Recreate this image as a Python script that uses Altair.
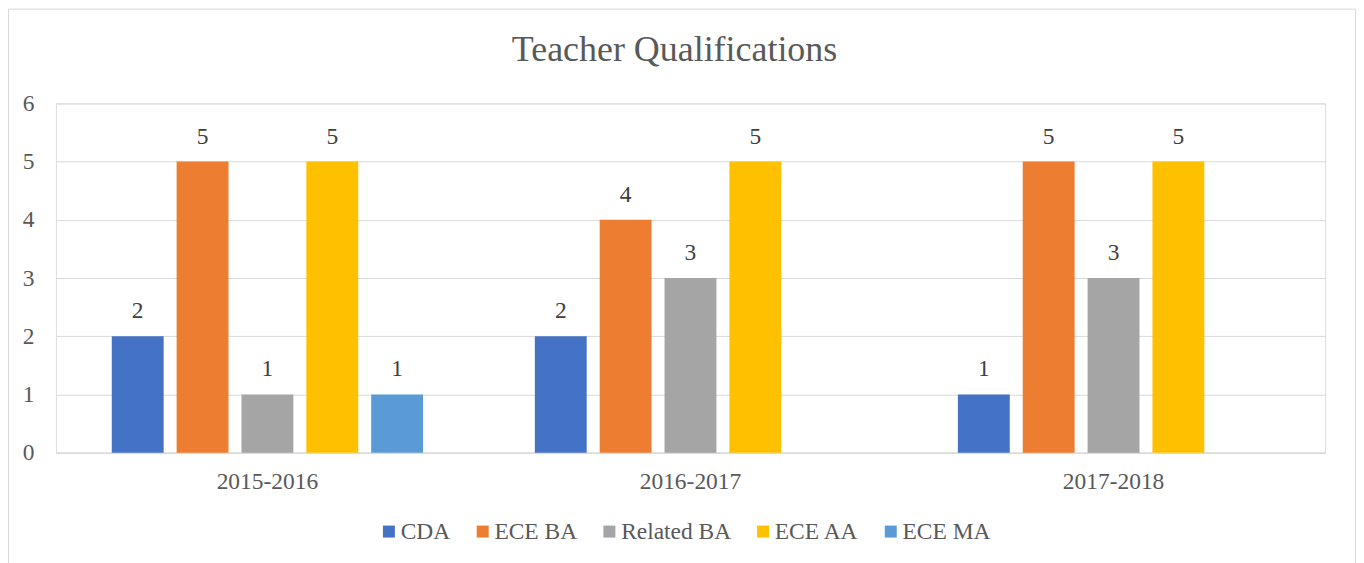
import altair as alt
import pandas as pd

years = ["2015-2016", "2016-2017", "2017-2018"]
series = ["CDA", "ECE BA", "Related BA", "ECE AA", "ECE MA"]
colors = ["#4472C4", "#ED7D31", "#A5A5A5", "#FFC000", "#5B9BD5"]
cda = [2, 2, 1]
ece_ba = [5, 4, 5]
related_ba = [1, 3, 3]
ece_aa = [5, 5, 5]
ece_ma = [1, None, None]

rows = []
for s, vals in zip(series, [cda, ece_ba, related_ba, ece_aa, ece_ma]):
    for y, v in zip(years, vals):
        if v is not None:
            rows.append({"year": y, "series": s, "value": v})
df = pd.DataFrame(rows)

FONT = "Liberation Serif"
TXT = "#595959"
GRID = "#D9D9D9"
FS = 23.5

x_enc = alt.X("year:N", sort=years, title=None,
              scale=alt.Scale(paddingInner=0.2335, paddingOuter=0.11675),
              axis=alt.Axis(labelAngle=0, labelFont=FONT, labelFontSize=FS,
                            labelColor=TXT, ticks=False, tickSize=0,
                            labelPadding=17, domainColor=GRID, domainWidth=1,
                            grid=False))
xoff_enc = alt.XOffset("series:N",
                       scale=alt.Scale(domain=series, paddingInner=0.2, paddingOuter=0.1))
y_enc = alt.Y("value:Q", title=None,
              scale=alt.Scale(domain=[0, 6], nice=False),
              axis=alt.Axis(values=[0, 1, 2, 3, 4, 5, 6], format="d", labelFont=FONT,
                            labelFontSize=FS, labelColor=TXT, ticks=False,
                            tickSize=0, labelPadding=22, domain=False,
                            gridColor=GRID, gridWidth=1))

border = alt.Chart(pd.DataFrame({"a": [0]})).mark_rect(
    fill="white", fillOpacity=0, stroke=GRID, strokeWidth=1
).encode(
    x=alt.value(-47.5), x2=alt.value(1302.5),
    y=alt.value(-94.5), y2=alt.value(600)
)

base = alt.Chart(df)

bars = base.mark_bar().encode(
    x=x_enc,
    xOffset=xoff_enc,
    y=y_enc,
    color=alt.Color("series:N", sort=series,
                    scale=alt.Scale(domain=series, range=colors),
                    legend=alt.Legend(title=None, orient="none", direction="horizontal",
                                      legendX=322, legendY=417,
                                      symbolType="square", symbolSize=144,
                                      symbolStrokeWidth=0,
                                      labelFont=FONT, labelFontSize=FS,
                                      labelColor=TXT, columnPadding=20,
                                      labelOffset=0, padding=0)),
)

labels = base.mark_text(
    font=FONT, fontSize=FS, color="#404040", baseline="alphabetic", dy=-18
).encode(
    x=alt.X("year:N", sort=years),
    xOffset=alt.XOffset("series:N"),
    y=alt.Y("value:Q"),
    text=alt.Text("value:Q"),
)

chart = alt.layer(border, bars, labels).properties(
    width=1272,
    height=350,
    autosize=alt.AutoSizeParams(type="none"),
    padding={"left": 48, "top": 95, "right": 31, "bottom": 110},
    title=alt.TitleParams("Teacher Qualifications", font=FONT, fontSize=36,
                          color=TXT, fontWeight="normal", anchor="middle",
                          dx=-16, dy=88, offset=0, baseline="alphabetic"),
).configure_view(stroke=None).configure(background="white")

chart.save("out.html", embed_options={"renderer": "svg", "actions": False})
